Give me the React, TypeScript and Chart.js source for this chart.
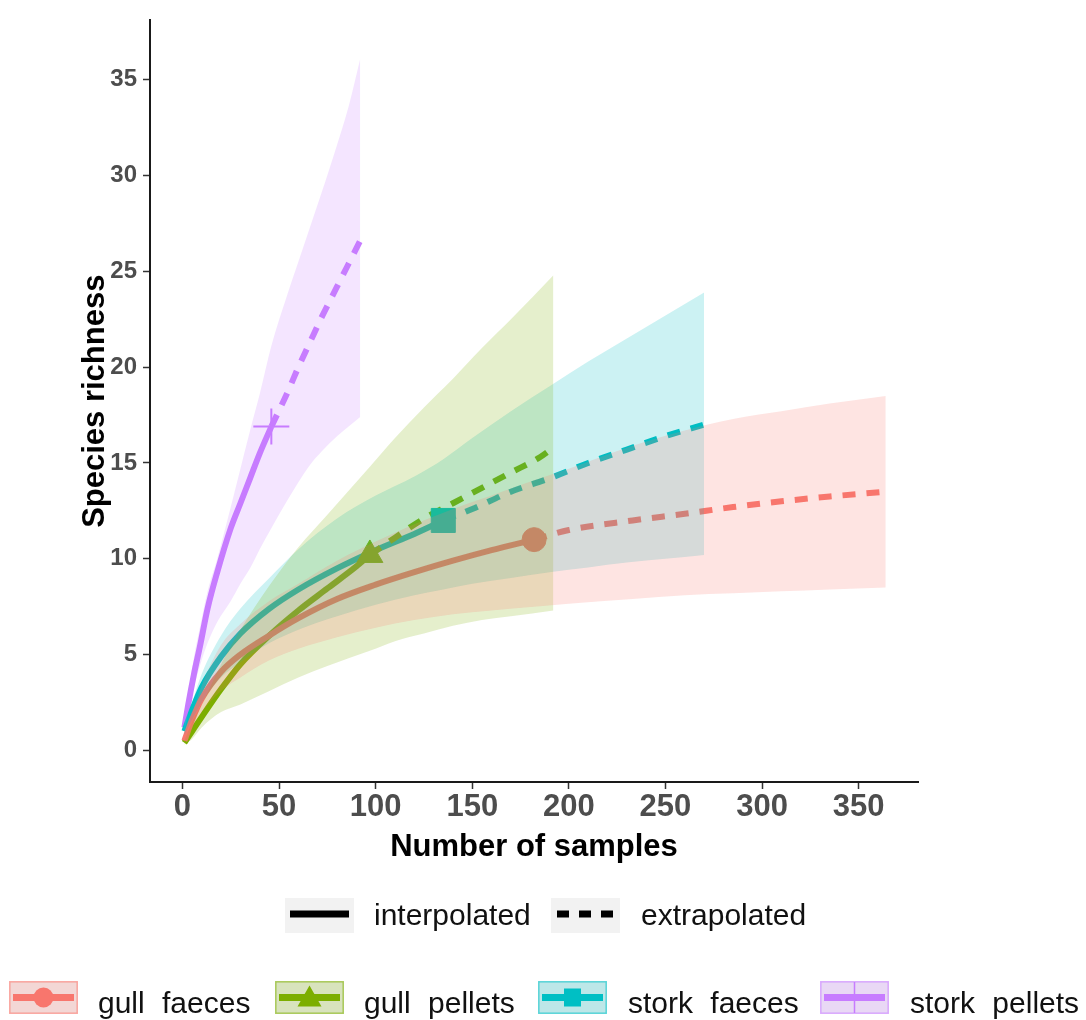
import React, { useEffect, useRef } from "react";
import { Chart, registerables } from "chart.js";

Chart.register(...registerables);

const xTickValues = [0, 50, 100, 150, 200, 250, 300, 350];
const yTickValues = [0, 5, 10, 15, 20, 25, 30, 35];

const seriesNames = ["gull faeces", "gull pellets", "stork faeces", "stork pellets"];
const seriesColors = ["#F8766D", "#7CAE00", "#00BFC4", "#C77CFF"];
const methodLabels = ["interpolated", "extrapolated"];

// observed (reference sample) points
const observedX = [182, 97, 135, 46];
const observedY = [11.0, 10.2, 12.0, 16.9];

// gull faeces
const gullFaecesInterpX = [1, 5, 10, 20, 30, 45, 60, 80, 100, 120, 140, 160, 182];
const gullFaecesInterpY = [0.5, 1.6, 2.7, 4.1, 5.0, 6.0, 6.9, 7.9, 8.65, 9.3, 9.9, 10.45, 11.0];
const gullFaecesExtrapX = [182, 200, 233, 260, 285, 310, 335, 364];
const gullFaecesExtrapY = [11.0, 11.5, 12.0, 12.35, 12.7, 13.0, 13.25, 13.5];
const gullFaecesBandX = [1, 5, 10, 20, 30, 45, 60, 80, 100, 120, 140, 160, 182, 200, 233, 260, 285, 310, 335, 364];
const gullFaecesLower = [0.4, 1.2, 2.0, 3.1, 3.8, 4.7, 5.3, 5.9, 6.4, 6.8, 7.1, 7.3, 7.5, 7.65, 7.9, 8.1, 8.2, 8.3, 8.4, 8.5];
const gullFaecesUpper = [0.6, 1.9, 3.4, 5.5, 6.6, 7.8, 8.7, 9.9, 10.9, 11.8, 12.6, 13.3, 14.1, 14.7, 15.9, 16.7, 17.3, 17.7, 18.1, 18.5];

// gull pellets
const gullPelletsInterpX = [1, 5, 10, 20, 30, 45, 60, 75, 90, 97];
const gullPelletsInterpY = [0.4, 1.0, 1.75, 3.2, 4.5, 6.0, 7.3, 8.45, 9.6, 10.2];
const gullPelletsExtrapX = [97, 110, 125, 140, 155, 170, 185, 192];
const gullPelletsExtrapY = [10.2, 11.1, 12.1, 12.9, 13.7, 14.5, 15.3, 15.8];
const gullPelletsBandX = [1, 5, 10, 20, 30, 45, 60, 75, 97, 110, 125, 140, 155, 170, 192];
const gullPelletsLower = [0.3, 0.6, 1.2, 2.0, 2.4, 3.1, 3.8, 4.4, 5.2, 5.7, 6.1, 6.5, 6.8, 7.0, 7.3];
const gullPelletsUpper = [0.5, 1.5, 2.4, 4.5, 6.3, 8.6, 10.6, 12.3, 14.8, 16.3, 17.9, 19.4, 21.0, 22.5, 24.8];

// stork faeces
const storkFaecesInterpX = [1, 5, 10, 20, 30, 45, 60, 80, 100, 120, 135];
const storkFaecesInterpY = [1.0, 2.1, 3.3, 4.9, 6.1, 7.4, 8.4, 9.5, 10.45, 11.3, 12.0];
const storkFaecesExtrapX = [135, 150, 170, 190, 210, 230, 250, 270];
const storkFaecesExtrapY = [12.0, 12.6, 13.5, 14.2, 15.0, 15.7, 16.4, 17.0];
const storkFaecesBandX = [1, 5, 10, 20, 30, 45, 60, 80, 100, 120, 135, 150, 170, 190, 210, 230, 250, 270];
const storkFaecesLower = [0.8, 1.6, 2.5, 3.8, 4.6, 5.6, 6.3, 7.0, 7.6, 8.1, 8.4, 8.7, 9.0, 9.3, 9.55, 9.8, 10.0, 10.2];
const storkFaecesUpper = [1.2, 2.5, 4.0, 6.0, 7.4, 9.0, 10.5, 12.1, 13.3, 14.3, 15.2, 16.3, 17.7, 19.0, 20.3, 21.5, 22.7, 23.9];

// stork pellets
const storkPelletsInterpX = [1, 3, 6, 9, 13, 18, 25, 30, 35, 40, 46];
const storkPelletsInterpY = [1.2, 2.4, 4.0, 5.4, 7.4, 9.3, 11.6, 12.9, 14.2, 15.5, 16.9];
const storkPelletsExtrapX = [46, 54, 60, 66, 72, 80, 86, 92];
const storkPelletsExtrapY = [16.9, 18.6, 20.0, 21.3, 22.6, 24.2, 25.4, 26.6];
const storkPelletsBandX = [1, 3, 6, 9, 13, 18, 25, 30, 35, 40, 46, 54, 60, 66, 72, 80, 86, 92];
const storkPelletsLower = [1.0, 2.0, 3.3, 4.4, 5.6, 6.7, 7.8, 8.7, 9.5, 10.5, 11.6, 13.0, 14.0, 14.9, 15.6, 16.4, 16.9, 17.4];
const storkPelletsUpper = [1.4, 2.9, 4.9, 6.4, 8.3, 10.0, 12.7, 14.7, 16.7, 18.6, 21.1, 23.7, 25.5, 27.3, 29.1, 31.6, 33.6, 36.1];

const interpX = [gullFaecesInterpX, gullPelletsInterpX, storkFaecesInterpX, storkPelletsInterpX];
const interpY = [gullFaecesInterpY, gullPelletsInterpY, storkFaecesInterpY, storkPelletsInterpY];
const extrapX = [gullFaecesExtrapX, gullPelletsExtrapX, storkFaecesExtrapX, storkPelletsExtrapX];
const extrapY = [gullFaecesExtrapY, gullPelletsExtrapY, storkFaecesExtrapY, storkPelletsExtrapY];
const bandX = [gullFaecesBandX, gullPelletsBandX, storkFaecesBandX, storkPelletsBandX];
const bandLower = [gullFaecesLower, gullPelletsLower, storkFaecesLower, storkPelletsLower];
const bandUpper = [gullFaecesUpper, gullPelletsUpper, storkFaecesUpper, storkPelletsUpper];
const markerStyles = ["circle", "triangle", "rect", "cross"];
const markerRadii = [12, 15, 17, 18];

const FONT = "'Liberation Sans', Arial, Helvetica, sans-serif";

function rgba(hex: string, a: number) {
  const n = parseInt(hex.slice(1), 16);
  return `rgba(${(n >> 16) & 255},${(n >> 8) & 255},${n & 255},${a})`;
}
function pts(xs: number[], ys: number[]) {
  return xs.map((x, i) => ({ x, y: ys[i] }));
}

function buildDatasets() {
  const ds: any[] = [];
  seriesNames.forEach((name, i) => {
    const c = seriesColors[i];
    ds.push({
      label: name + " lower",
      data: pts(bandX[i], bandLower[i]),
      borderColor: "transparent",
      borderWidth: 0,
      pointRadius: 0,
      fill: false,
      cubicInterpolationMode: "monotone",
      order: 0,
    });
    ds.push({
      label: name + " upper",
      data: pts(bandX[i], bandUpper[i]),
      borderColor: "transparent",
      borderWidth: 0,
      pointRadius: 0,
      fill: "-1",
      backgroundColor: rgba(c, 0.2),
      cubicInterpolationMode: "monotone",
      order: 0,
    });
  });
  seriesNames.forEach((name, i) => {
    const c = seriesColors[i];
    ds.push({
      label: name + " observed",
      data: [{ x: observedX[i], y: observedY[i] }],
      showLine: false,
      pointStyle: markerStyles[i],
      pointRadius: markerRadii[i],
      pointBackgroundColor: c,
      pointBorderColor: c,
      pointBorderWidth: i === 3 ? 2 : 1,
      order: 1,
    });
    ds.push({
      label: name + " interpolated",
      data: pts(interpX[i], interpY[i]),
      borderColor: c,
      borderWidth: 6,
      pointRadius: 0,
      fill: false,
      cubicInterpolationMode: "monotone",
      borderJoinStyle: "round",
      order: 2,
    });
    ds.push({
      label: name + " extrapolated",
      data: pts(extrapX[i], extrapY[i]),
      borderColor: c,
      borderWidth: 6,
      borderDash: [13, 11],
      borderCapStyle: "butt",
      pointRadius: 0,
      fill: false,
      cubicInterpolationMode: "monotone",
      order: 2,
    });
  });
  return ds;
}

function LegendGlyph({ i }: { i: number }) {
  const c = seriesColors[i];
  const w = 69, h = 33, cx = 34.5, cy = 16.5;
  return (
    <svg width={w} height={h} style={{ display: "block" }}>
      <rect x={0.75} y={0.75} width={w - 1.5} height={h - 1.5} fill="#F2F2F2" />
      <rect x={0.75} y={0.75} width={w - 1.5} height={h - 1.5} fill={c} fillOpacity={0.22} stroke={c} strokeOpacity={0.6} strokeWidth={1.5} />
      <line x1={4} x2={w - 4} y1={cy} y2={cy} stroke={c} strokeWidth={7} />
      {i === 0 && <circle cx={cx} cy={cy} r={10} fill={c} />}
      {i === 1 && <polygon points={`${cx},${cy - 12} ${cx + 12},${cy + 9} ${cx - 12},${cy + 9}`} fill={c} />}
      {i === 2 && <rect x={cx - 8.5} y={cy - 9} width={17} height={18} fill={c} />}
      {i === 3 && <line x1={cx} x2={cx} y1={1} y2={h - 1} stroke={c} strokeWidth={1.5} />}
    </svg>
  );
}

export default function App() {
  const canvasRef = useRef<HTMLCanvasElement | null>(null);

  useEffect(() => {
    const canvas = canvasRef.current;
    if (!canvas) return;
    const xTickFont = { family: FONT, size: 31, weight: "bold" as const };
    const yTickFont = { family: FONT, size: 24, weight: "bold" as const };
    const titleFont = { family: FONT, size: 31, weight: "bold" as const };
    const chart = new Chart(canvas, {
      type: "line",
      data: { datasets: buildDatasets() },
      options: {
        responsive: false,
        animation: false,
        devicePixelRatio: 1,
        layout: { padding: { top: 10, right: 168, bottom: 0, left: 0 } },
        plugins: {
          legend: { display: false },
          tooltip: { enabled: false },
          filler: { propagate: false },
        },
        elements: { line: { tension: 0.4 } },
        scales: {
          x: {
            type: "linear",
            min: -16.8,
            max: 380.7,
            afterFit: (s: any) => { s.height = 238; },
            afterBuildTicks: (s: any) => { s.ticks = xTickValues.map((v) => ({ value: v })); },
            ticks: {
              color: "#4D4D4D",
              font: xTickFont,
              padding: 0,
              maxRotation: 0,
              autoSkip: false,
              callback: (v: any) => String(v),
            },
            grid: { display: true, drawOnChartArea: false, drawTicks: true, tickLength: 7, tickColor: "#333333", tickWidth: 1.5 },
            border: { display: true, color: "#1A1A1A", width: 2 },
            title: { display: true, text: "Number of samples", color: "#000000", font: titleFont, padding: { top: 0, bottom: 154 } },
          },
          y: {
            type: "linear",
            min: -1.65,
            max: 38.1,
            afterFit: (s: any) => { s.width = 150; },
            afterBuildTicks: (s: any) => { s.ticks = yTickValues.map((v) => ({ value: v })); },
            ticks: {
              color: "#4D4D4D",
              font: yTickFont,
              padding: 6,
              autoSkip: false,
              callback: (v: any) => String(v),
            },
            grid: { display: true, drawOnChartArea: false, drawTicks: true, tickLength: 7, tickColor: "#333333", tickWidth: 1.5 },
            border: { display: true, color: "#1A1A1A", width: 2 },
            title: { display: true, text: "Species richness", color: "#000000", font: titleFont, padding: { top: 77, bottom: 0 } },
          },
        },
      } as any,
    });
    return () => chart.destroy();
  }, []);

  const textStyle: React.CSSProperties = {
    position: "absolute",
    fontFamily: FONT,
    fontSize: 30,
    lineHeight: "30px",
    color: "#111111",
    whiteSpace: "nowrap",
  };
  const row2BoxLeft = [9, 275, 538, 820];
  const row2TextLeft = [98, 364, 628, 910];

  return (
    <div style={{ position: "fixed", left: 0, top: 0, width: 1086, height: 1020, background: "#ffffff", overflow: "hidden" }}>
      <canvas ref={canvasRef} width={1086} height={1020} style={{ position: "absolute", left: 0, top: 0, width: 1086, height: 1020 }} />
      <div style={{ position: "absolute", left: 285, top: 898, width: 69, height: 35, background: "#F2F2F2" }}>
        <svg width={69} height={35} style={{ display: "block" }}>
          <line x1={5} x2={64} y1={16} y2={16} stroke="#000" strokeWidth={7} />
        </svg>
      </div>
      <div style={{ ...textStyle, left: 374, top: 900 }}>{methodLabels[0]}</div>
      <div style={{ position: "absolute", left: 551, top: 898, width: 69, height: 35, background: "#F2F2F2" }}>
        <svg width={69} height={35} style={{ display: "block" }}>
          <line x1={6} x2={64} y1={16} y2={16} stroke="#000" strokeWidth={7} strokeDasharray="12 10" />
        </svg>
      </div>
      <div style={{ ...textStyle, left: 641, top: 900 }}>{methodLabels[1]}</div>
      {seriesNames.map((name, i) => (
        <React.Fragment key={name}>
          <div style={{ position: "absolute", left: row2BoxLeft[i], top: 981 }}>
            <LegendGlyph i={i} />
          </div>
          <div style={{ ...textStyle, left: row2TextLeft[i], top: 988, wordSpacing: 9 }}>{name}</div>
        </React.Fragment>
      ))}
    </div>
  );
}
